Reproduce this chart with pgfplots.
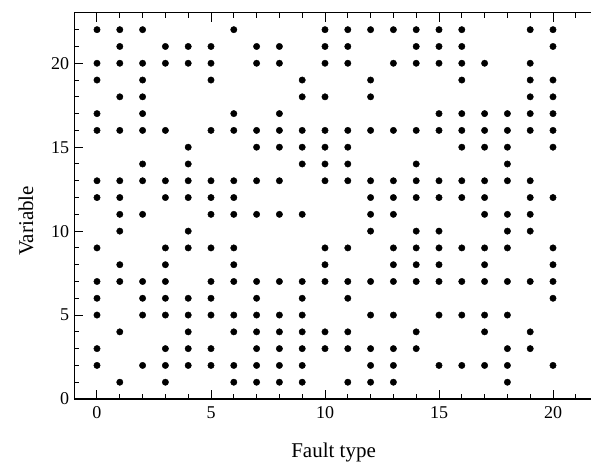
\documentclass[border=0pt]{standalone}
\usepackage{fontspec}
\setmainfont{Liberation Serif}
\usepackage{pgfplots}
\pgfplotsset{compat=1.18}
\begin{document}
\begin{tikzpicture}
\begin{axis}[
 name=ax,
 scale only axis, width=518.7pt, height=386.1pt,
 xmin=-1, xmax=21.75, ymin=0, ymax=23,
 xtick={0,5,...,20}, ytick={0,5,...,20},
 minor xtick={0,...,21}, minor ytick={0,...,22},
 xtick pos=both, ytick pos=left,
 tick align=inside,
 major tick length=9pt, minor tick length=5pt,
 every tick/.style={black, line width=1pt},
 axis line style={line width=1.2pt},
 tick label style={font=\fontsize{18}{20}\selectfont},
 /pgf/number format/assume math mode=true,
 xticklabel style={yshift=-4pt},
 yticklabel style={xshift=-1.5pt},
 xlabel={Fault type}, ylabel={Variable},
 label style={font=\fontsize{21}{24}\selectfont},
 xlabel style={at={([yshift=-59pt]axis description cs:0.5,0)}, anchor=base},
 ylabel style={at={([xshift=-41pt]axis description cs:0,0.461)}, anchor=base},
]
\addplot[only marks, mark=*, mark size=3.2pt, black] table {
x y
0 22
0 20
0 19
0 17
0 16
0 13
0 12
0 9
0 7
0 6
0 5
0 3
0 2
1 22
1 21
1 20
1 18
1 16
1 13
1 12
1 11
1 10
1 8
1 7
1 4
1 1
2 22
2 20
2 19
2 18
2 17
2 16
2 14
2 13
2 11
2 7
2 6
2 5
2 2
3 21
3 20
3 16
3 13
3 12
3 9
3 8
3 7
3 6
3 5
3 3
3 2
3 1
4 21
4 20
4 15
4 14
4 13
4 12
4 10
4 9
4 6
4 5
4 4
4 3
4 2
5 21
5 20
5 19
5 16
5 13
5 12
5 11
5 9
5 7
5 6
5 5
5 3
5 2
6 22
6 17
6 16
6 13
6 12
6 11
6 9
6 8
6 7
6 5
6 4
6 2
6 1
7 21
7 20
7 16
7 15
7 13
7 11
7 7
7 6
7 5
7 4
7 3
7 2
7 1
8 21
8 20
8 17
8 16
8 15
8 13
8 11
8 7
8 5
8 4
8 3
8 2
8 1
9 19
9 18
9 16
9 15
9 14
9 11
9 7
9 6
9 5
9 4
9 3
9 2
9 1
10 22
10 21
10 20
10 18
10 16
10 15
10 14
10 13
10 9
10 8
10 7
10 4
10 3
11 22
11 21
11 20
11 16
11 15
11 14
11 13
11 9
11 7
11 6
11 4
11 3
11 1
12 22
12 19
12 18
12 16
12 13
12 12
12 11
12 10
12 7
12 5
12 3
12 2
12 1
13 22
13 20
13 16
13 13
13 12
13 11
13 9
13 8
13 7
13 5
13 3
13 2
13 1
14 22
14 21
14 20
14 16
14 14
14 13
14 12
14 10
14 9
14 8
14 7
14 4
14 3
15 22
15 21
15 20
15 17
15 16
15 13
15 12
15 10
15 9
15 8
15 7
15 5
15 2
16 22
16 21
16 20
16 19
16 17
16 16
16 15
16 13
16 12
16 9
16 7
16 5
16 2
17 20
17 17
17 16
17 15
17 13
17 12
17 11
17 9
17 8
17 7
17 5
17 4
17 2
18 17
18 16
18 15
18 14
18 13
18 11
18 10
18 9
18 7
18 5
18 3
18 2
18 1
19 22
19 20
19 19
19 18
19 17
19 16
19 13
19 12
19 11
19 10
19 7
19 4
19 3
20 22
20 21
20 19
20 18
20 17
20 16
20 15
20 12
20 9
20 8
20 7
20 6
20 2
};
\end{axis}
\pgfresetboundingbox
\useasboundingbox ([xshift=-74.2pt,yshift=-66pt]ax.south west) rectangle ([xshift=-1.9pt,yshift=12.9pt]ax.north east);
\end{tikzpicture}
\end{document}
